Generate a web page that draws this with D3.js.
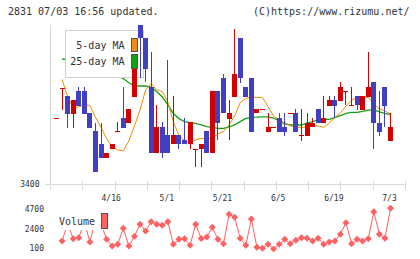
<!DOCTYPE html>
<html><head><meta charset="utf-8">
<script src="https://cdn.jsdelivr.net/npm/d3@7/dist/d3.min.js"></script>
<style>
body{margin:0;background:#fff}
svg{display:block}
text{font-family:"DejaVu Sans Mono",monospace;fill:#333}
</style>
</head><body>
<svg id="chart" width="420" height="259"></svg>
<script>
// ---- data ----
const opens  = [3730,3880,3840,3750,3865,3865,3755,3665,3600,3530,3575,3665,3730,3705,3835,4195,4130,3885,3555,3685,3645,3600,3645,3620,3600,3575,3575,3665,3555,3865,3930,3725,3835,4130,3885,3930,3755,3775,3660,3685,3730,3685,3755,3755,3645,3640,3685,3775,3705,3790,3820,3815,3865,3795,3840,3770,3835,3910,3705,3885,3615];
const highs  = [3730,3880,3840,3820,3885,3885,3755,3705,3705,3555,3600,3710,3885,3775,3975,4195,4130,4060,3795,3710,4020,3840,3645,3730,3710,3575,3600,3665,3865,3865,3950,3820,4175,4130,3885,3930,3775,3775,3755,3685,3755,3755,3755,3775,3775,3755,3730,3775,3840,3840,3840,3910,3865,3885,3840,3840,4060,3910,3865,3885,3755];
const lows   = [3730,3770,3680,3680,3790,3750,3680,3460,3530,3530,3575,3665,3680,3705,3835,3930,3910,3555,3555,3530,3555,3600,3575,3600,3575,3485,3485,3555,3555,3620,3755,3620,3835,3905,3835,3660,3755,3775,3660,3685,3660,3640,3755,3660,3615,3640,3685,3705,3705,3790,3730,3815,3795,3795,3770,3770,3835,3575,3640,3685,3615];
const closes = [3730,3880,3750,3820,3790,3750,3680,3460,3530,3555,3600,3665,3680,3775,3975,4130,3975,3555,3685,3555,3555,3645,3600,3600,3710,3575,3600,3555,3865,3705,3755,3755,3950,3930,3835,3660,3775,3775,3685,3685,3660,3660,3755,3660,3645,3705,3705,3705,3730,3820,3790,3885,3865,3795,3795,3840,3885,3705,3660,3790,3685];
const ma5    = [null,3923,3837,3778,3786,3796,3793,3733,3683,3628,3586,3570,3566,3615,3690,3770,3870,3902,3872,3862,3810,3710,3642,3617,3605,3620,3628,3625,3630,3650,3663,3695,3740,3807,3828,3835,3833,3832,3787,3740,3718,3707,3691,3684,3683,3685,3691,3691,3683,3705,3732,3755,3790,3817,3835,3835,3833,3802,3776,3765,3750];
const ma25   = [null,4025,4022,4017,4012,4007,4000,3990,3980,3970,3957,3945,3927,3906,3890,3890,3890,3885,3862,3835,3797,3752,3727,3712,3707,3703,3696,3687,3683,3678,3678,3685,3696,3712,3728,3733,3734,3736,3736,3730,3715,3700,3695,3695,3695,3705,3712,3720,3723,3723,3732,3742,3753,3758,3758,3763,3769,3770,3761,3753,3747];
const volumes= [null,950,3000,1220,1340,3200,840,3400,3000,1150,370,570,2440,370,1500,2910,2130,3210,2910,2790,3210,570,1150,1220,450,2910,1250,1420,2560,1150,640,4080,3730,1270,450,3530,220,100,570,30,570,1150,640,1040,1340,1270,950,1270,570,840,950,1740,3100,640,1150,950,1220,4380,1740,1270,4780];
const dateLabels = ["4/16","5/1","5/21","6/5","6/19","7/3"];
const dateIndex  = [10,20,30,40,50,60];
const priceTicks = [3400];
const volumeTicks = [4700,2400,100];
const gridCount = 11;

// ---- drawing ----
const svg = d3.select("#chart");
const n = closes.length;
const x = d3.scaleLinear().domain([0, n-1]).range([56.5, 390.5]);
const y = d3.scaleLinear().domain([3400, 4200]).range([184, 24]);
const vy = d3.scaleLinear().domain([100, 4700]).range([248.3, 209]);
const gx = d3.scaleLinear().domain([0, gridCount]).range([50, 405]);
const axisCol = "#d9d9d9";

svg.append("text").attr("x", 8).attr("y", 14.6).attr("font-size", 10).text("2831 07/03 16:56 updated.");
svg.append("text").attr("x", 409.5).attr("y", 14.6).attr("font-size", 10).attr("text-anchor", "end").text("(C)https://www.rizumu.net/");

// axes
const ax = svg.append("g").attr("shape-rendering", "crispEdges").attr("stroke", axisCol);
ax.append("line").attr("x1", 50.5).attr("x2", 50.5).attr("y1", 25).attr("y2", 189.5);
ax.append("line").attr("x1", 45).attr("x2", 405.5).attr("y1", y(3400)+0.5).attr("y2", y(3400)+0.5);
ax.selectAll("line.t").data(d3.range(1, gridCount+1)).join("line").attr("class","t")
  .attr("x1", d => Math.round(gx(d))+0.5).attr("x2", d => Math.round(gx(d))+0.5)
  .attr("y1", 181).attr("y2", 189.5);

svg.selectAll("text.pt").data(priceTicks).join("text").attr("class","pt")
  .attr("x", 39.5).attr("y", d => y(d)+3).attr("font-size", 8).attr("text-anchor","end").text(d => d);
svg.selectAll("text.dt").data(dateLabels).join("text").attr("class","dt")
  .attr("x", (d,i) => x(dateIndex[i]) - 1).attr("y", 200.7).attr("font-size", 8)
  .attr("text-anchor","middle").text(d => d);

// moving averages
const lineGen = d3.line().defined(d => d[1] != null).x(d => x(d[0])).y(d => y(d[1]));
svg.append("path").attr("d", lineGen(ma25.map((v,i)=>[i,v]))).attr("fill","none").attr("stroke","#14a014").attr("stroke-width",1.3);
svg.append("path").attr("d", lineGen(ma5.map((v,i)=>[i,v]))).attr("fill","none").attr("stroke","#f08c00").attr("stroke-width",1);

// legend box (price)
const lg = svg.append("g");
lg.append("rect").attr("x",65.5).attr("y",30.5).attr("width",78).attr("height",46.5)
  .attr("fill","#fff").attr("stroke","#cfcfcf").attr("shape-rendering","crispEdges");
lg.append("text").attr("x",124.5).attr("y",48.6).attr("font-size",10).attr("text-anchor","end").text("5-day MA");
lg.append("text").attr("x",124.5).attr("y",65.2).attr("font-size",10).attr("text-anchor","end").text("25-day MA");

// candles
const cg = svg.append("g").attr("shape-rendering","crispEdges");
const idx = d3.range(n);
const col = i => closes[i] >= opens[i] ? "#d40000" : "#4040c0";
const bodyTop = i => y(Math.max(opens[i], closes[i]));
const bodyBot = i => y(Math.min(opens[i], closes[i]));
cg.selectAll("line.w").data(idx).join("line").attr("class","w")
  .attr("x1", i => Math.round(x(i)-2.5)+2.5).attr("x2", i => Math.round(x(i)-2.5)+2.5)
  .attr("y1", i => y(highs[i])).attr("y2", i => y(lows[i]))
  .attr("stroke", col).attr("stroke-width", 1);
cg.selectAll("rect.b").data(idx).join("rect").attr("class","b")
  .attr("x", i => Math.round(x(i)-2.5)).attr("width", 5)
  .attr("y", bodyTop)
  .attr("height", i => Math.max(1, bodyBot(i) - bodyTop(i)))
  .attr("fill", col);

// legend swatches
svg.append("rect").attr("x",131.5).attr("y",38).attr("width",6).attr("height",13.5).attr("fill","#f08c14").attr("stroke","#555").attr("shape-rendering","crispEdges");
svg.append("rect").attr("x",131.5).attr("y",54.5).attr("width",6).attr("height",13.5).attr("fill","#14a014").attr("stroke","#555").attr("shape-rendering","crispEdges");

// volume
const vCol = "#ff6060";
const vLine = d3.line().defined(d => d[1] != null).x(d => x(d[0])).y(d => vy(d[1]));
svg.append("path").attr("d", vLine(volumes.map((v,i)=>[i,v]))).attr("fill","none").attr("stroke",vCol).attr("stroke-width",1);
svg.selectAll("path.vm").data(idx.filter(i => volumes[i] != null)).join("path").attr("class","vm")
  .attr("d", d3.symbol(d3.symbolSquare, 24)())
  .attr("transform", i => `translate(${x(i)},${vy(volumes[i])}) rotate(45)`)
  .attr("fill", vCol);
svg.append("rect").attr("x",57).attr("y",212).attr("width",53).attr("height",18).attr("fill","#fff");
svg.append("text").attr("x",59).attr("y",225).attr("font-size",10).text("Volume");
svg.append("rect").attr("x",101.5).attr("y",213.5).attr("width",5.5).attr("height",14.5).attr("fill",vCol).attr("stroke","#555").attr("shape-rendering","crispEdges");
svg.selectAll("text.vt").data(volumeTicks).join("text").attr("class","vt")
  .attr("x", 44).attr("y", d => vy(d)+3).attr("font-size", 8).attr("text-anchor","end").text(d => d);
</script>
</body></html>
